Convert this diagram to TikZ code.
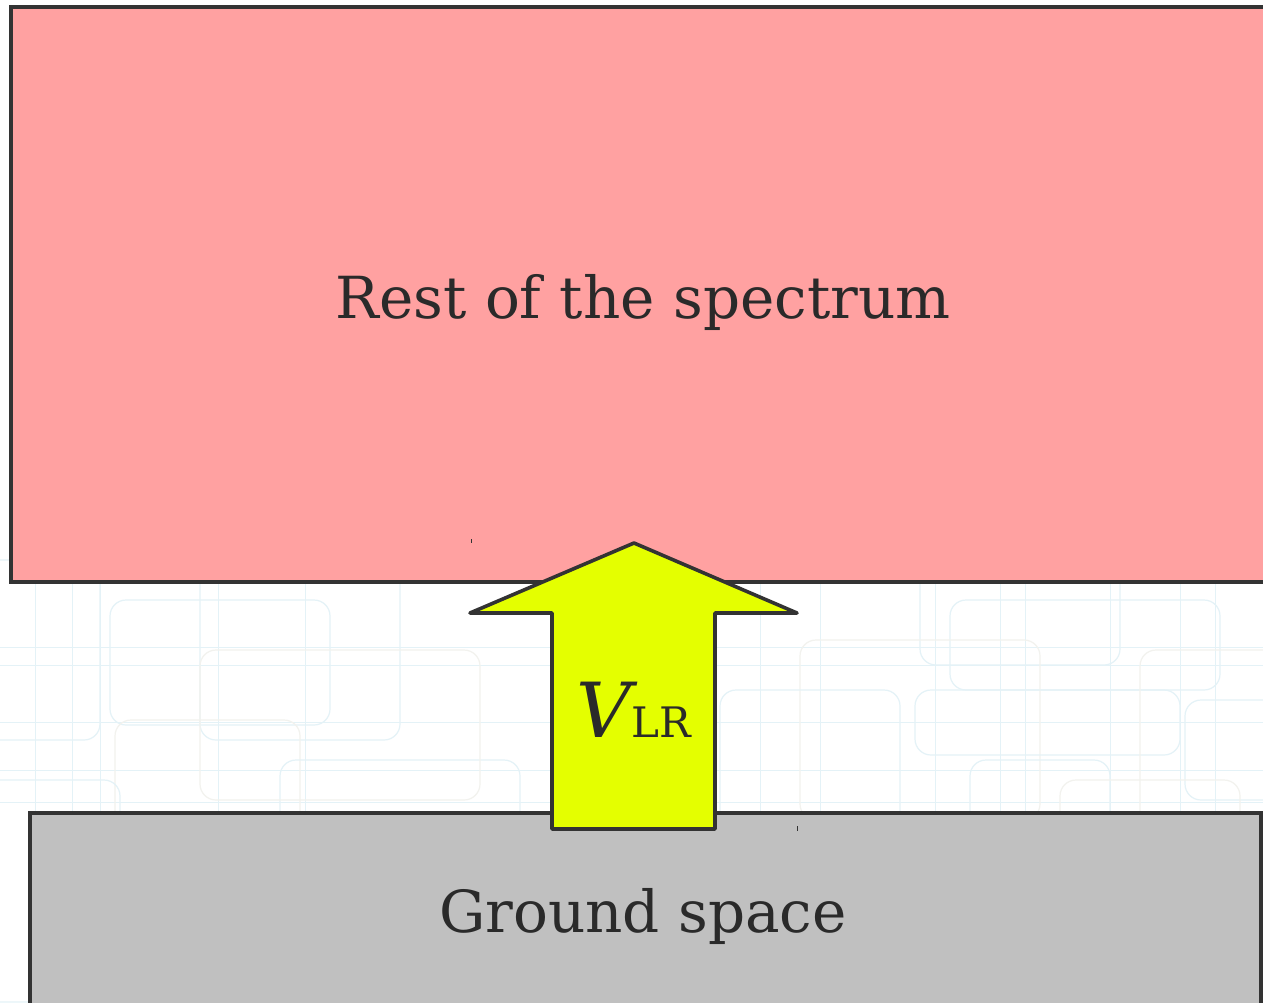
\documentclass[tikz,border=0pt]{standalone}
\usepackage{fontspec}
\setmainfont{DejaVu Serif}
\definecolor{pinkfill}{RGB}{255,161,161}
\definecolor{grayfill}{RGB}{192,192,192}
\definecolor{arrowfill}{RGB}{228,255,0}
\definecolor{edge}{RGB}{51,51,51}
\definecolor{txt}{RGB}{42,42,42}
\definecolor{bgline}{RGB}{228,242,247}
\definecolor{bgline2}{RGB}{242,242,238}
\tikzset{
  boxstyle/.style={draw=edge, line width=3.6pt, line join=miter},
  bgrect/.style={draw=bgline, line width=1.2pt, rounded corners=16pt},
  bgrect2/.style={draw=bgline2, line width=1.2pt, rounded corners=16pt},
  lbl/.style={text=txt, inner sep=0pt, anchor=base}
}
\begin{document}
\begin{tikzpicture}[x=1pt,y=-1pt]
\useasboundingbox (0,0) rectangle (1263,1002);
\fill[white] (0,0) rectangle (1263,1002);
% faint background pattern
\begin{scope}
\clip (0,0) rectangle (1263,1002);
\foreach \x in {35,72,100,218,305,578,610,665,760,820,935,1000,1025,1110,1180,1215}{
  \draw[bgline, line width=1pt] (\x,580) -- (\x,1002);
}
\foreach \y in {647,665,722,770,802}{
  \draw[bgline, line width=1pt] (0,\y) -- (1263,\y);
}
\draw[bgrect] (-20,560) rectangle (100,740);
\draw[bgrect] (110,600) rectangle (330,725);
\draw[bgrect] (200,560) rectangle (400,740);
\draw[bgrect2] (115,720) rectangle (300,1002);
\draw[bgrect] (280,760) rectangle (520,1002);
\draw[bgrect2] (200,650) rectangle (480,800);
\draw[bgrect] (920,560) rectangle (1120,665);
\draw[bgrect] (950,600) rectangle (1220,690);
\draw[bgrect2] (800,640) rectangle (1040,820);
\draw[bgrect] (915,690) rectangle (1180,755);
\draw[bgrect] (970,760) rectangle (1110,1002);
\draw[bgrect2] (1140,650) rectangle (1300,1002);
\draw[bgrect] (1185,700) rectangle (1300,800);
\draw[bgrect] (720,690) rectangle (900,850);
\draw[bgrect2] (1060,780) rectangle (1240,1002);
\draw[bgrect] (-30,780) rectangle (120,1002);
\end{scope}
% boxes
\node[boxstyle, fill=pinkfill, rectangle, inner sep=0pt, minimum width=1254pt, minimum height=575pt, anchor=north west] (rest) at (9,5) {};
\node[boxstyle, fill=grayfill, rectangle, inner sep=0pt, minimum width=1231pt, minimum height=200pt, anchor=north west] (ground) at (28,811) {};
% arrow
\coordinate (tip) at (634,543);
\coordinate (base) at (634,829);
\draw[boxstyle, fill=arrowfill, line join=round] (tip) -- (797,613) -- (715,613) -- (715,829) -- (552,829) -- (552,613) -- (470,613) -- cycle;
% tiny marks
\draw[edge, line width=1pt] (471,539) -- (471,543);
\draw[edge, line width=1pt] (797,826) -- (797,831);
% labels
\node[lbl, font=\fontsize{58}{60}\selectfont] (resttxt) at (643,318) {Rest of the spectrum};
\node[lbl, font=\fontsize{58}{60}\selectfont] (groundtxt) at (643,932) {Ground space};
\node[lbl] (vlr) at (634,737) {{\fontsize{76}{78}\selectfont\itshape V}{\fontsize{42}{44}\selectfont LR}};
\end{tikzpicture}
\end{document}
